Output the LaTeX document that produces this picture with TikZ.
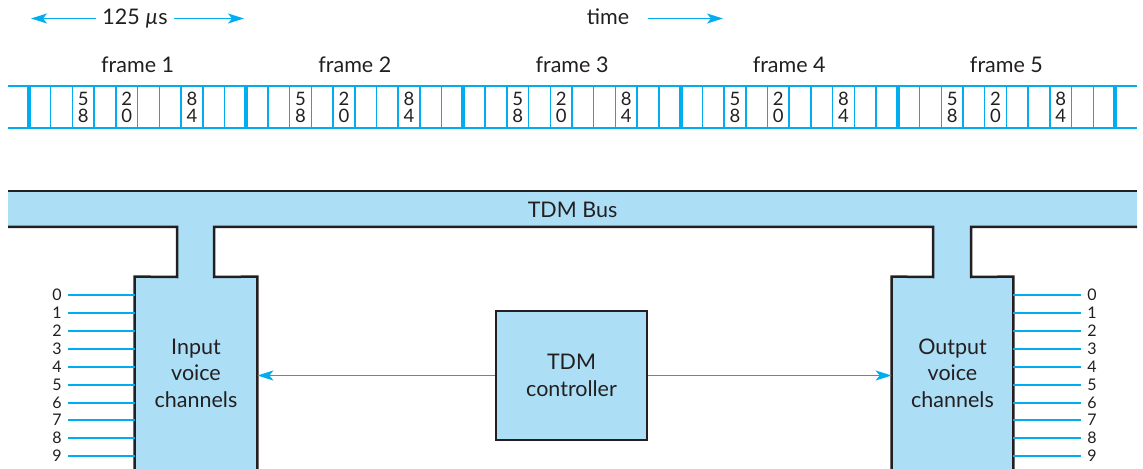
\documentclass[tikz,border=0pt]{standalone}
\usepackage{fontspec}
\setmainfont{Lato}
\usetikzlibrary{arrows.meta}

\definecolor{tdmcyan}{RGB}{0,174,239}
\definecolor{tdmfill}{RGB}{172,223,246}
\definecolor{tdmink}{RGB}{35,31,32}

\begin{document}
\begin{tikzpicture}[x=0.5pt, y=-0.5pt,
    cyanline/.style={tdmcyan, line width=0.9pt},
    cyanarrow/.style={tdmcyan, line width=0.75pt, -{Stealth[length=8pt, width=5pt, inset=2pt]}},
    blackline/.style={tdmink, line width=1.25pt, line join=miter},
    textlabel/.style={text=tdmink, inner sep=0pt, font=\fontsize{10.75}{13.25}\selectfont},
    boxfill/.style={textlabel, fill=tdmfill, align=center},
    celldigit/.style={text=tdmink, inner sep=0pt, align=center, font=\fontsize{9.25}{8.5}\selectfont},
    chanlabel/.style={text=tdmink, inner sep=0pt, minimum width=7pt, font=\fontsize{8}{8}\selectfont}]

    \useasboundingbox (0,0) rectangle (1143,469);

    % Length of one frame and the arrow of time
    \node[textlabel, anchor=base, inner xsep=3pt] (dur) at (135,25) {125 \textit{µ}s};
    \coordinate (durL) at (31,18.5);
    \coordinate (durR) at (244,18.5);
    \draw[cyanarrow] (dur.west |- durL) -- (durL);
    \draw[cyanarrow] (dur.east |- durR) -- (durR);

    \node[textlabel, anchor=base] (time) at (608,25) {time};
    \coordinate (timeR) at (723,18.5);
    \draw[cyanarrow] ([xshift=9pt]time.east |- timeR) -- (timeR);

    % Frames of ten time slots
    \draw[tdmcyan, line width=1pt] (8,86) -- (1137,86);
    \draw[tdmcyan, line width=1pt] (8,128) -- (1137,128);
    \foreach \k in {0,...,5} {
        \draw[tdmcyan, line width=2pt] ({29+217.2*\k},86) -- ({29+217.2*\k},128);
    }
    \foreach \k in {0,...,4} {
        \foreach \j in {1,...,9} {
            \draw[tdmcyan, line width=0.75pt] ({29+217.2*\k+21.72*\j},86) -- ({29+217.2*\k+21.72*\j},128);
        }
        \foreach \j/\a/\b in {2/5/8, 4/2/0, 7/8/4} {
            \node[celldigit] (slot\k-\j) at ({29+217.2*\k+21.72*(\j+0.5)},107.5) {\a\\\b};
        }
    }
    \foreach \n in {1,...,5} {
        \node[textlabel, anchor=base] (frame\n) at ({29+217.2*(\n-0.5)},73) {frame \n};
    }

    % Bus, its two taps and the boxes
    \fill[tdmfill] (8,191) rectangle (1137,227);
    \fill[tdmfill] (177,226) rectangle (214,278);
    \fill[tdmfill] (933,226) rectangle (971,278);
    \node[textlabel] (bus) at (572.5,210) {TDM Bus};

    \node[boxfill, minimum width=61pt, minimum height=96pt] (inbox) at (196,373) {Input\\voice\\channels};
    \node[boxfill, minimum width=60.5pt, minimum height=96pt] (outbox) at (952.5,373) {Output\\voice\\channels};
    \node[boxfill, draw=tdmink, line width=1.25pt, minimum width=75.5pt, minimum height=64.5pt] (ctrl) at (571.5,375.5) {TDM\\controller};

    \draw[blackline] (8,191) -- (1137,191);
    \draw[blackline] (8,227) -- (177,227) -- (177,277) -- (inbox.north west) -- (inbox.south west);
    \draw[blackline] (inbox.south east) -- (inbox.north east) -- (214,277) -- (214,227)
        -- (933,227) -- (933,277) -- (outbox.north west) -- (outbox.south west);
    \draw[blackline] (outbox.south east) -- (outbox.north east) -- (971,277) -- (971,227) -- (1137,227);

    % Controller to the channel boxes
    \draw[cyanarrow] (ctrl.west) -- (ctrl.west -| inbox.east);
    \draw[cyanarrow] (ctrl.east) -- (ctrl.east -| outbox.west);

    % Voice channels 0 to 9
    \foreach \i in {0,...,9} {
        \node[chanlabel] (in\i) at (57,{int(295.7+17.9*\i)}) {\i};
        \node[chanlabel] (out\i) at (1092,{int(295.7+17.9*\i)}) {\i};
        \draw[cyanline] ([xshift=2pt]in\i.east) -- (in\i -| inbox.west);
        \draw[cyanline] (out\i -| outbox.east) -- ([xshift=-2pt]out\i.west);
    }

\end{tikzpicture}
\end{document}
